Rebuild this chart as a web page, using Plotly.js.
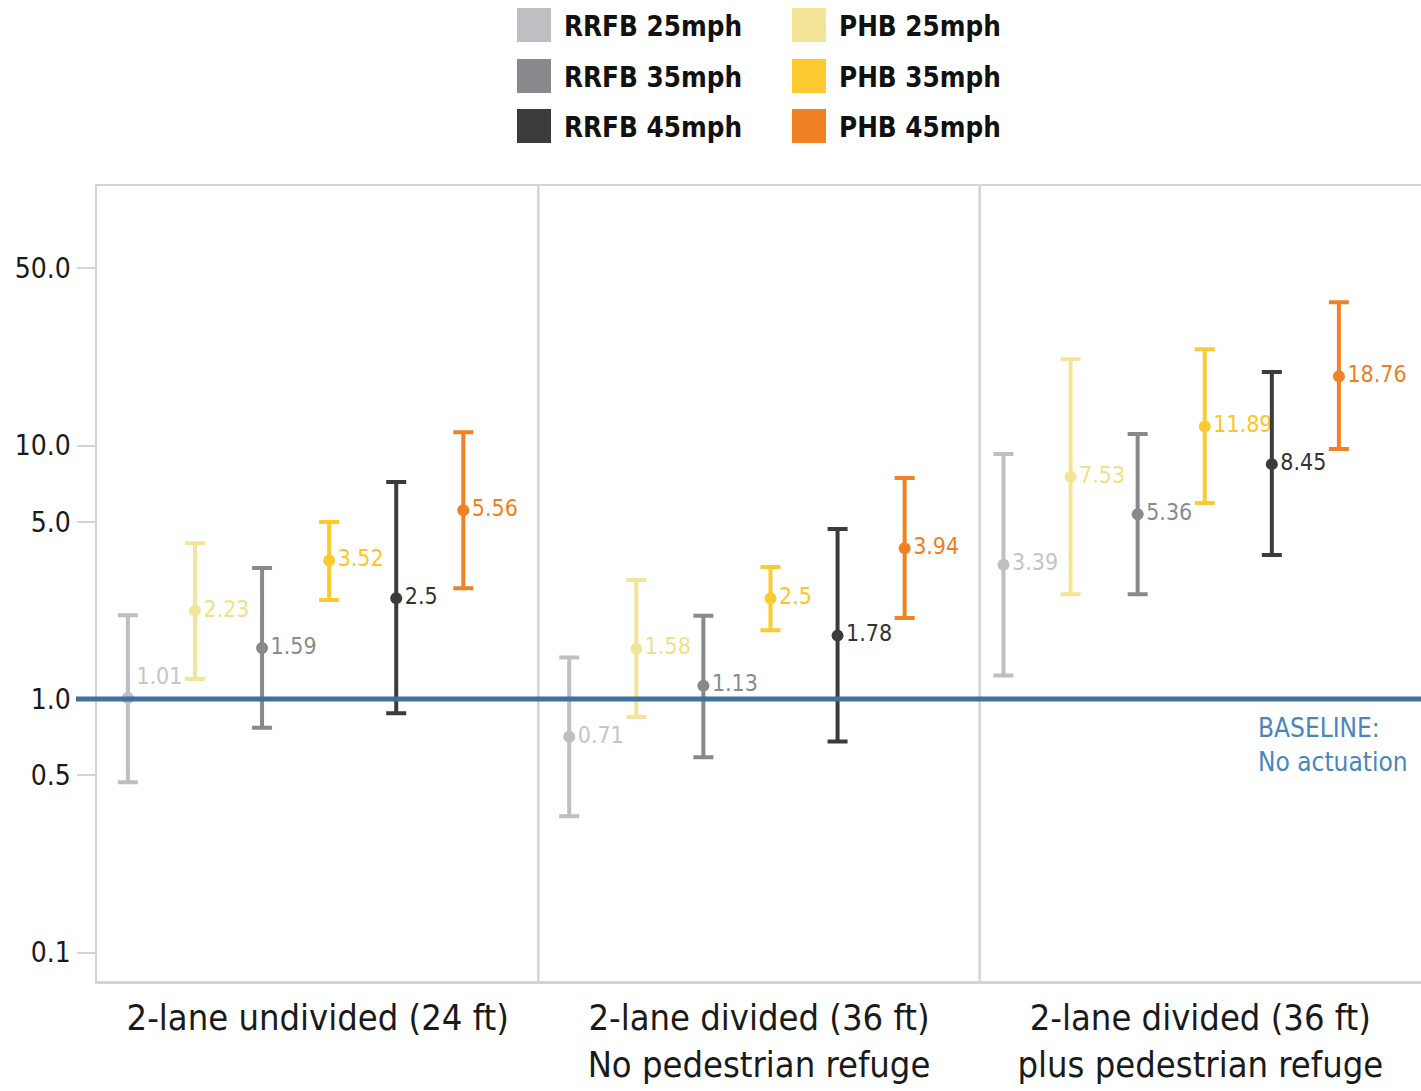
<!DOCTYPE html>
<html>
<head>
<meta charset="utf-8">
<script src="https://cdn.plot.ly/plotly-3.0.1.min.js"></script>
<style>
  html, body { margin: 0; padding: 0; background: #ffffff; }
  #chart { width: 1421px; height: 1091px; }
</style>
</head>
<body>
<div id="chart"></div>
<script>
// ---- Data ----
const panels = ["2-lane undivided (24 ft)", "2-lane divided (36 ft)<br>No pedestrian refuge", "2-lane divided (36 ft)<br>plus pedestrian refuge"];
const seriesNames = ["RRFB 25mph", "PHB 25mph", "RRFB 35mph", "PHB 35mph", "RRFB 45mph", "PHB 45mph"];

const rrfb25Est = [1.01, 0.71, 3.39];
const rrfb25Lo  = [0.47, 0.345, 1.24];
const rrfb25Hi  = [2.14, 1.46, 9.26];

const phb25Est = [2.23, 1.58, 7.53];
const phb25Lo  = [1.20, 0.85, 2.59];
const phb25Hi  = [4.12, 2.95, 21.9];

const rrfb35Est = [1.59, 1.13, 5.36];
const rrfb35Lo  = [0.77, 0.59, 2.59];
const rrfb35Hi  = [3.29, 2.13, 11.1];

const phb35Est = [3.52, 2.5, 11.89];
const phb35Lo  = [2.46, 1.87, 5.93];
const phb35Hi  = [5.0, 3.32, 24.0];

const rrfb45Est = [2.5, 1.78, 8.45];
const rrfb45Lo  = [0.88, 0.68, 3.70];
const rrfb45Hi  = [7.18, 4.69, 19.5];

const phb45Est = [5.56, 3.94, 18.76];
const phb45Lo  = [2.74, 2.09, 9.69];
const phb45Hi  = [11.3, 7.45, 36.8];

const yTickVals = [0.1, 0.5, 1, 5, 10, 50];
const yTickText = ["0.1", "0.5", "1.0", "5.0", "10.0", "50.0"];
const baseline = 1;
const baselineText = "BASELINE:<br>No actuation";

// ---- Styles ----
const colors = ["#bebfc3", "#f3e597", "#88898c", "#fdca30", "#3b3b3b", "#f08224"];
const labelColors = ["#c4c5c9", "#f1e08a", "#8a8b8f", "#fdc52a", "#333333", "#f07f22"];
const FONT = "'Liberation Sans Narrow', 'Arial Narrow', 'DejaVu Sans Condensed', sans-serif";

const series = [
  [rrfb25Est, rrfb25Lo, rrfb25Hi],
  [phb25Est, phb25Lo, phb25Hi],
  [rrfb35Est, rrfb35Lo, rrfb35Hi],
  [phb35Est, phb35Lo, phb35Hi],
  [rrfb45Est, rrfb45Lo, rrfb45Hi],
  [phb45Est, phb45Lo, phb45Hi]
];

// small per-panel shift so groups sit where the reference places them
const panelShift = [0, 0, -0.016];

const traces = series.map((s, j) => {
  const [est, lo, hi] = s;
  const off = -0.43 + j * 0.152;
  return {
    type: "scatter",
    mode: "markers+text",
    name: seriesNames[j],
    x: panels.map((p, i) => i + off + panelShift[i]),
    y: est,
    text: est.map(v => String(v)),
    // lift a label that would sit on the baseline
    textposition: est.map(v => (Math.abs(v - baseline) < 0.05 ? "top right" : "middle right")),
    textfont: { family: FONT, size: 23, color: labelColors[j] },
    marker: { color: colors[j], size: 12 },
    error_y: {
      type: "data", symmetric: false,
      array: est.map((v, i) => hi[i] - v),
      arrayminus: est.map((v, i) => v - lo[i]),
      color: colors[j], thickness: 4, width: 10
    },
    cliponaxis: false,
    showlegend: false,
    hovertemplate: seriesNames[j] + ": %{y}<extra></extra>"
  };
});

// ---- Custom legend (large square swatches) ----
const L = 97, W = 1324, B = 981, H = 795;
const px = x => (x - L) / W;
const py = y => (B - y) / H;
const shapes = [];
const annotations = [];
const legendCols = [[0, 2, 4], [1, 3, 5]];
const colSwatchX = [517, 792];
const rowCenters = [25, 76, 126];
legendCols.forEach((col, c) => {
  col.forEach((j, r) => {
    const cy = rowCenters[r];
    shapes.push({
      type: "rect", xref: "paper", yref: "paper",
      x0: px(colSwatchX[c]), x1: px(colSwatchX[c] + 34),
      y0: py(cy + 17), y1: py(cy - 17),
      fillcolor: colors[j], line: { width: 0 }
    });
    annotations.push({
      xref: "paper", yref: "paper",
      x: px(colSwatchX[c] + 45), y: py(cy + 1),
      xanchor: "left", yanchor: "middle",
      text: "<b>" + seriesNames[j] + "</b>",
      showarrow: false,
      font: { family: FONT, size: 27.5, color: "#111111" }
    });
  });
});

// panel separators
[0.5, 1.5].forEach(xv => shapes.push({
  type: "line", xref: "x", yref: "paper", x0: xv, x1: xv, y0: 0, y1: 1,
  line: { color: "#d4d4d4", width: 2.5 }
}));
// baseline
shapes.push({
  type: "line", xref: "paper", yref: "y",
  x0: px(76), x1: 1, y0: baseline, y1: baseline,
  line: { color: "#3e71a0", width: 5 }
});

annotations.push({
  xref: "paper", yref: "paper",
  x: px(1256), y: py(745),
  xanchor: "left", yanchor: "middle", align: "left",
  text: baselineText, showarrow: false,
  font: { family: FONT, size: 26, color: "#4a86bb" }
});

const layout = {
  width: 1421, height: 1091,
  margin: { l: 97, r: 0, t: 186, b: 110 },
  paper_bgcolor: "#ffffff", plot_bgcolor: "#ffffff",
  showlegend: false,
  font: { family: FONT, color: "#222222" },
  xaxis: {
    range: [-0.5, 2.5],
    tickvals: [0, 1, 2], ticktext: panels,
    ticks: "", showgrid: false, zeroline: false,
    showline: true, mirror: true, linecolor: "#d4d4d4", linewidth: 2.5,
    tickfont: { family: FONT, size: 36, color: "#1a1a1a" },
    ticklabelstandoff: 3,
    fixedrange: true
  },
  yaxis: {
    type: "log",
    range: [-1.112, 2.024],
    tickvals: yTickVals, ticktext: yTickText,
    ticks: "outside", ticklen: 18, tickwidth: 2, tickcolor: "#d4d4d4",
    showgrid: false, zeroline: false,
    showline: true, mirror: true, linecolor: "#d4d4d4", linewidth: 2.5,
    tickfont: { family: FONT, size: 28, color: "#1a1a1a" },
    fixedrange: true
  },
  shapes: shapes,
  annotations: annotations
};

Plotly.newPlot("chart", traces, layout, { displayModeBar: false, staticPlot: true });
</script>
</body>
</html>
